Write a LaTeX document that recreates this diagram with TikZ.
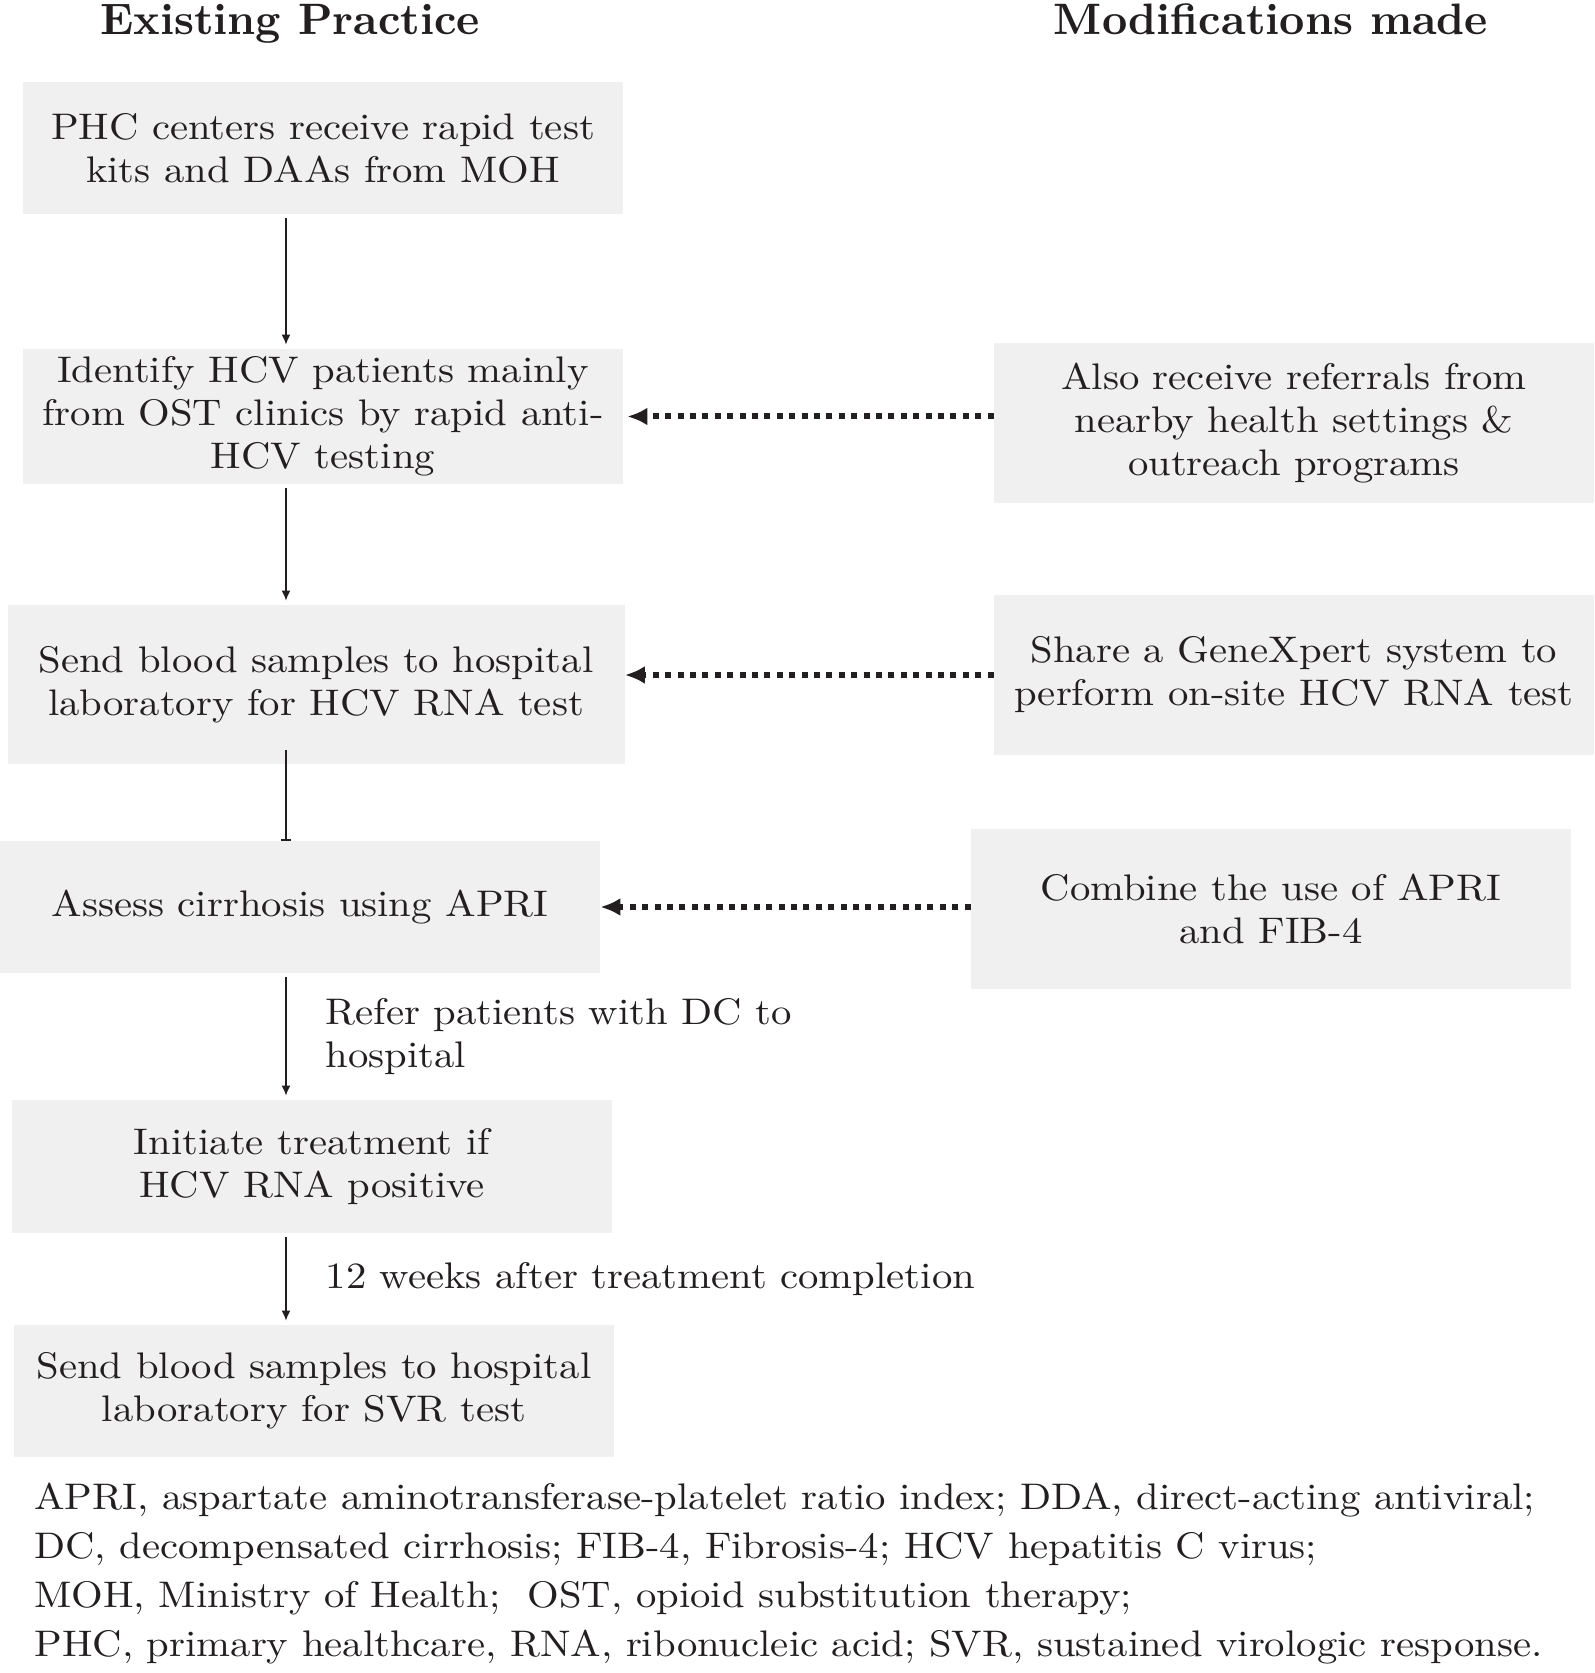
\documentclass[tikz,border=0pt]{standalone}
\usepackage{fontspec}
\setmainfont{lmroman10}[Extension=.otf,UprightFont=*-regular,BoldFont=*-bold,FakeStretch=1.1]
\newfontfamily\headfont{lmroman10}[Extension=.otf,UprightFont=*-bold]
\usetikzlibrary{arrows.meta,positioning}
\definecolor{boxgray}{HTML}{F0F0F0}
\definecolor{ink}{HTML}{231F20}

\begin{document}
\begin{tikzpicture}[x=0.5pt,y=-0.5pt,
    every node/.style={text=ink,font=\fontsize{18.5}{21.5}\selectfont},
    box/.style={fill=boxgray,align=center,inner sep=0pt,minimum width=300pt,minimum height=66pt},
    modbox/.style={box,minimum height=80pt},
    head/.style={font=\headfont\fontsize{22}{26}\selectfont,anchor=base},
    flow/.style={draw=ink,line width=0.75pt,-{Latex[length=5pt,width=4.5pt]},shorten >=2pt,shorten <=2pt},
    dotflow/.style={draw=ink,line width=3pt,dash pattern=on 3pt off 3.2pt,-{Latex[length=10pt,width=9pt]}},
    lbl/.style={right=19.5pt,align=left,inner sep=0pt}]
  \useasboundingbox (0,0) rectangle (1594,1673);

  % headings
  \node[head] (exist) at (290,35) {Existing Practice};
  \node[head] (modif) at (1271,35) {Modifications made};

  % existing practice
  \node[box] (phc) at (323,148) {PHC centers receive rapid test\\kits and DAAs from MOH};
  \node[box,minimum height=67.5pt] (ident) at (323,416.5) {Identify HCV patients mainly\\from OST clinics by rapid anti-\\HCV testing};
  \node[box,minimum width=308.5pt,minimum height=79.5pt] (send) at (316,684.5) {Send blood samples to hospital\\laboratory for HCV RNA test};
  \node[box] (assess) at (300,907) {Assess cirrhosis using APRI};
  \node[box,minimum height=66.5pt] (init) at (312,1166.5) {Initiate treatment if\\HCV RNA positive};
  \node[box] (svr) at (314,1391) {Send blood samples to hospital\\laboratory for SVR test};

  % modifications
  \node[modbox] (refer) at (1294,423) {Also receive referrals from\\nearby health settings \&\\outreach programs};
  \node[modbox] (genex) at (1294,675) {Share a GeneXpert system to\\perform on-site HCV RNA test};
  \node[modbox] (combine) at (1271,908.5) {Combine the use of APRI\\and FIB-4};

  \coordinate (spine) at (286,0);
  \draw[flow] (phc.south -| spine) -- (ident.north -| spine);
  \draw[flow] (ident.south -| spine) -- (send.north -| spine);
  \draw[draw=ink,line width=0.75pt,-{Bar[width=5pt]},shorten <=-7pt] (send.south -| spine) -- (assess.north -| spine);
  \draw[flow] (assess.south -| spine) -- node[lbl] {Refer patients with DC to\\hospital} (init.north -| spine);
  \draw[flow] (init.south -| spine) -- node[lbl] {12 weeks after treatment completion} (svr.north -| spine);

  \draw[dotflow,shorten >=2pt] (refer.west |- ident) -- (ident.east);
  \draw[dotflow] (genex.west) -- (genex.west -| send.east);
  \draw[dotflow] (combine.west |- assess) -- (assess.east);

  % abbreviations
  \node[anchor=north west,align=left,inner sep=0pt,font=\fontsize{18.5}{24.5}\selectfont] (legend) at (34,1483)
    {APRI, aspartate aminotransferase-platelet ratio index; DDA, direct-acting antiviral;\\
     DC, decompensated cirrhosis; FIB-4, Fibrosis-4; HCV hepatitis C virus;\\
     MOH, Ministry of Health;~ OST, opioid substitution therapy;\\
     PHC, primary healthcare, RNA, ribonucleic acid; SVR, sustained virologic response.};
\end{tikzpicture}
\end{document}
